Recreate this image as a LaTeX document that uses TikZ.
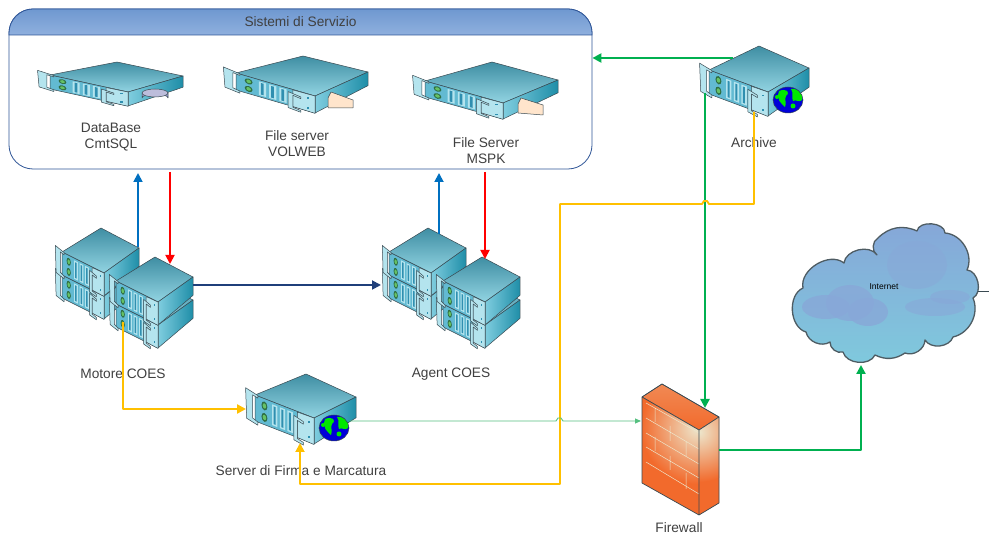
\documentclass[tikz,border=0pt]{standalone}
\usepackage{fontspec}
\setmainfont{Liberation Sans}
\usetikzlibrary{arrows.meta,calc}
\definecolor{topdark}{HTML}{3F8EA3}
\definecolor{toplight}{HTML}{92D4E2}
\definecolor{sidel}{HTML}{7FCDDF}
\definecolor{sider}{HTML}{1F8EA8}
\definecolor{frontc}{HTML}{62BAD2}
\definecolor{platec}{HTML}{B4E4EE}
\definecolor{slotc}{HTML}{2F8FB0}
\definecolor{edgec}{HTML}{3A4A52}
\definecolor{cgreen}{HTML}{00B050}
\definecolor{cyellow}{HTML}{FFC000}
\definecolor{cblue}{HTML}{0070C0}
\definecolor{cnavy}{HTML}{1F3F7A}
\definecolor{lgreen}{HTML}{55C080}
\definecolor{hdrT}{HTML}{6F98D0}
\definecolor{hdrB}{HTML}{8FB0DE}
\definecolor{boxedge}{HTML}{2F5597}
\definecolor{brick}{HTML}{F26A2C}
\definecolor{creamy}{HTML}{EDE6CC}
\definecolor{cloudT}{HTML}{86A6D8}
\definecolor{cloudB}{HTML}{7FCADD}
\definecolor{blot}{HTML}{88A8D8}
\tikzset{
  lab/.style={font=\fontsize{13.7}{16}\selectfont,text=black!75,align=center,inner sep=0pt},
  wire/.style={line width=#1,-{Triangle[length=9pt,width=9pt]}},
  wire/.default=2.7pt,
  plain/.style={draw=edgec,line width=0.5pt,line join=round},
  part/.style={draw=edgec,line width=0.5pt,line join=round,fill=frontc},
}
% F(x,y) U(x,y) R(x,y) A(x,y) h
\newcommand{\srvbox}[9]{%
  \path[plain,top color=topdark,bottom color=toplight] (#1,#2)--(#3,#4)--(#5,#6)--(#7,#8)--cycle;
  \path[plain,left color=sidel,right color=sider] (#3,#4)--(#5,#6)--(#5,{#6+0.8*#9})--(#3,{#4+#9})--cycle;
  \begin{scope}[shift={(#1,#2)},x={({(#3-#1)*1pt},{-(#4-#2)*1pt})},y={(0pt,{-#9*1pt})}]
    \path[part] (0,0)--(1,0)--(1,1)--(0,1)--cycle;
    \path[part,fill=platec] (.72,.02)--(1,0)--(1,1.02)--(.72,1)--cycle;
    \foreach \t in {.29,.42,.55}{%
      \path[fill=platec] (\t,.1)--(\t+.09,.1)--(\t+.09,.9)--(\t,.9)--cycle;
      \path[fill=slotc] (\t+.025,.16)--(\t+.06,.16)--(\t+.06,.84)--(\t+.025,.84)--cycle;}
    \path[part,fill=platec] (-.16,-.14)--(.05,-.02)--(.05,.08)--(-.04,.03)--(-.04,.92)--(.05,1)--(.05,1.12)--(-.14,1.02)--cycle;
    \path[part,fill=platec] (.66,.2)--(.82,.3)--(.82,.4)--(.72,.34)--(.72,1.04)--(.82,1.1)--(.82,1.2)--(.66,1.14)--cycle;
    \foreach \v in {.28,.72}{\fill[edgec!80!green] (.16,\v) circle[x radius=.05,y radius=.17];\fill[green!60!black!60!white] (.16,\v) circle[x radius=.03,y radius=.1];}
    \fill[slotc] (.9,.2) rectangle (.93,.25);
    \fill[slotc] (.9,.8) rectangle (.93,.85);
  \end{scope}}
\newcommand{\ballglobe}[2]{%
  \begin{scope}[shift={(#1,#2)}]
    \begin{scope}
      \clip (0,0) circle[x radius=15,y radius=13];
      \fill[blue!85!black] (-16,-14) rectangle (16,14);
      \fill[green!85!black!60!green] (-9,-9) .. controls (-2,-12) and (3,-8) .. (-2,-4) .. controls (-4,0) and (-1,2) .. (-3,7) .. controls (-7,3) and (-12,0) .. (-9,-9);
      \fill[green!85!black!60!green] (3,-11) .. controls (10,-12) and (16,-6) .. (14,0) .. controls (11,3) and (8,-1) .. (5,1) .. controls (3,-3) and (6,-7) .. (3,-11);
      \fill[green!85!black!60!green] (-11,-3) circle (2);
      \fill[green!85!black!60!green] (5,6) circle (2.5);
    \end{scope}
    \draw[edgec,line width=.5pt] (0,0) circle[x radius=15,y radius=13];
  \end{scope}}
\newcommand{\towerunit}{\srvbox{62}{252}{104}{273}{139}{248}{101}{228}{23}}
\newcommand{\stackof}{%
  \begin{scope}[shift={(0,23)}]\towerunit\end{scope}
  \towerunit
  \begin{scope}[shift={(54,52)}]\towerunit\end{scope}
  \begin{scope}[shift={(54,29)}]\towerunit\end{scope}}
\begin{document}
\begin{tikzpicture}[x=1pt,y=-1pt]
\useasboundingbox[fill=white] (0,0) rectangle (989,534);
% container
\node[draw=boxedge,line width=.8pt,rounded corners=24pt,minimum width=583pt,minimum height=160pt,inner sep=0pt,fill=white] (sistemi) at (300.5,89) {};
\path[top color=hdrT,bottom color=hdrB,draw=boxedge,line width=.8pt] (9,35) {[rounded corners=24pt] -- (9,9) -- (592,9)} -- (592,35) -- cycle;
\node[lab] (titolo) at (300.5,22) {Sistemi di Servizio};
% servers in the box
\srvbox{50}{75}{128}{92}{183}{76}{117}{62}{14}
\path[plain,left color=blue!30!gray!60!white,right color=blue!30!gray!70!white,middle color=white!85!blue] (142,93) -- (142,98) arc[start angle=180,end angle=360,x radius=13,y radius=4] -- (168,93) -- cycle;
\path[plain,fill=blue!30!gray!40!white] (155,93) circle[x radius=13,y radius=4];
\srvbox{236}{73}{315}{96}{368}{72}{303}{56}{17}
\path[plain,fill=orange!20!white] (328,98) -- (331,92) -- (353,100) -- (353,108) -- (328,108) -- cycle;
\srvbox{425}{81}{503}{103}{558}{80}{492}{62}{16}
\path[plain,fill=orange!20!white] (518,104) -- (521,98) -- (543,105) -- (543,115) -- (518,113) -- cycle;
% archive
\srvbox{709}{70}{768}{92}{809}{68}{759}{46}{24}
\ballglobe{788}{100}
% firma
\srvbox{255}{395}{314}{418}{356}{397}{306}{374}{26}
\ballglobe{334}{428}
% stacks
\stackof
\begin{scope}[shift={(327,0)}]\stackof\end{scope}
% firewall
\path[plain,top color=brick!75!creamy,bottom color=brick] (642,397)--(662,384)--(719,417)--(699,430)--cycle;
\begin{scope}
  \clip (642,397)--(699,430)--(699,515)--(642,483)--cycle;
  \fill[brick] (630,380) rectangle (710,520);
  \shade[inner color=creamy,outer color=brick] (697,428) circle (56);
\end{scope}
\begin{scope}
  \clip (699,430)--(719,417)--(719,503)--(699,515)--cycle;
  \fill[brick] (695,410) rectangle (725,520);
  \shade[inner color=creamy,outer color=brick] (699,432) circle (50);
\end{scope}
\draw[creamy,line width=.5pt]
  (646,403)--(699,433) (646,418)--(699,449) (646,433)--(699,464) (646,447)--(699,478) (646,462)--(699,494)
  (655,408)--(655,422) (670,426)--(670,441) (686,442)--(686,457)
  (655,437)--(655,451) (670,456)--(670,470) (686,473)--(686,489);
\draw[edgec,line width=.7pt,line join=round] (642,397)--(662,384)--(719,417)--(719,503)--(699,515)--(642,483)--cycle (642,397)--(699,430)--(699,515) (699,430)--(719,417);
% cloud
\draw[draw=edgec!90,line width=1.3pt,line join=round,top color=cloudT,bottom color=cloudB]
  (803,288) to[bend left=70] (844,263) to[bend left=70] (877,255) to[bend left=60] (878,238) to[bend left=35] (917,231)
  to[bend left=85] (945,233) to[bend left=55] (967,270) to[bend left=75] (973,298) to[bend left=50] (953,337)
  to[bend left=65] (925,340) to[bend left=55] (905,353) to[bend left=30] (875,355) to[bend left=70] (843,352)
  to[bend left=55] (830,342) to[bend left=55] (806,332) to[bend left=70] (803,288) -- cycle;
\fill[blot,opacity=.8] (826,307) ellipse[x radius=24,y radius=12];
\fill[blot,opacity=.8] (850,303) ellipse[x radius=24,y radius=18];
\fill[blot,opacity=.8] (868,312) ellipse[x radius=20,y radius=14];
\fill[blot,opacity=.6] (935,307) ellipse[x radius=30,y radius=9];
\fill[blot,opacity=.6] (950,297) ellipse[x radius=20,y radius=7];
\fill[blot,opacity=.5] (917,265) ellipse[x radius=30,y radius=24];
\node[lab,font=\fontsize{8.5}{10}\selectfont,text=black] (internet) at (884,287) {Internet};
% labels
\node[lab] (l1) at (111,137) {DataBase\\CmtSQL};
\node[lab] (l2) at (297,144) {File server\\VOLWEB};
\node[lab] (l3) at (486,151) {File Server\\MSPK};
\node[lab] (l4) at (754,143) {Archive};
\node[lab] (l5) at (123,374) {Motore COES};
\node[lab] (l6) at (451,374) {Agent COES};
\node[lab] (l7) at (301,471) {Server di Firma e Marcatura};
\node[lab] (l8) at (679,528) {Firewall};
% anchors
\coordinate (archW) at (733,58);
\coordinate (archG) at (705,93);
\coordinate (fwTop) at (705,408);
\coordinate (archY) at (754,112);
\coordinate (yc1) at (754,204);
\coordinate (h1) at (709,204);\coordinate (h2) at (707,201);\coordinate (h3) at (704,201);\coordinate (h4) at (702,204);
\coordinate (yc2) at (560,204);
\coordinate (yc3) at (560,484);
\coordinate (yc4) at (300,484);
\coordinate (firmaB) at (300,443);
\coordinate (motB) at (123,322);
\coordinate (yc5) at (123,409);
\coordinate (firmaW) at (246,409);
\coordinate (firmaE) at (350,421);
\coordinate (g1) at (556,421);\coordinate (g2) at (558,418);\coordinate (g3) at (561,418);\coordinate (g4) at (563,421);
\coordinate (fwW) at (641,421);
\coordinate (fwE) at (719,450);
\coordinate (gc) at (861,450);
\coordinate (cloudS) at (861,365);
\coordinate (mB1) at (138,247);\coordinate (mB2) at (138,173);
\coordinate (mR1) at (170,172);\coordinate (mR2) at (170,264);
\coordinate (mE) at (193,285);\coordinate (aW) at (381,285);
\coordinate (aB1) at (439,234);\coordinate (aB2) at (439,173);
\coordinate (aR1) at (485,172);\coordinate (aR2) at (485,259);
\coordinate (cloudE) at (978,292);\coordinate (edgeE) at (989,292);
% connectors
\draw[wire,cgreen] (archW) -- (archW -| sistemi.east);
\draw[wire,cgreen] (archG) -- (fwTop);
\draw[wire=1.9pt,cyellow,line join=round] (archY) -- (yc1) -- (h1) -- (h2) -- (h3) -- (h4) -- (yc2) -- (yc3) -- (yc4) -- (firmaB);
\draw[wire=2.9pt,cyellow,line join=round] (motB) -- (yc5) -- (firmaW);
\draw[lgreen,line width=.9pt,-{Triangle[length=6pt,width=5pt]},line join=round] (firmaE) -- (g1) -- (g2) -- (g3) -- (g4) -- (fwW);
\draw[wire=2.9pt,cgreen,line join=round] (fwE) -- (gc) -- (cloudS);
\draw[wire=1.8pt,cblue] (mB1) -- (mB2);
\draw[wire=1.8pt,red] (mR1) -- (mR2);
\draw[wire=1.8pt,cnavy] (mE) -- (aW);
\draw[wire=1.8pt,cblue] (aB1) -- (aB2);
\draw[wire=1.8pt,red] (aR1) -- (aR2);
\draw[edgec,line width=1pt] (cloudE) -- (edgeE);
\end{tikzpicture}
\end{document}
